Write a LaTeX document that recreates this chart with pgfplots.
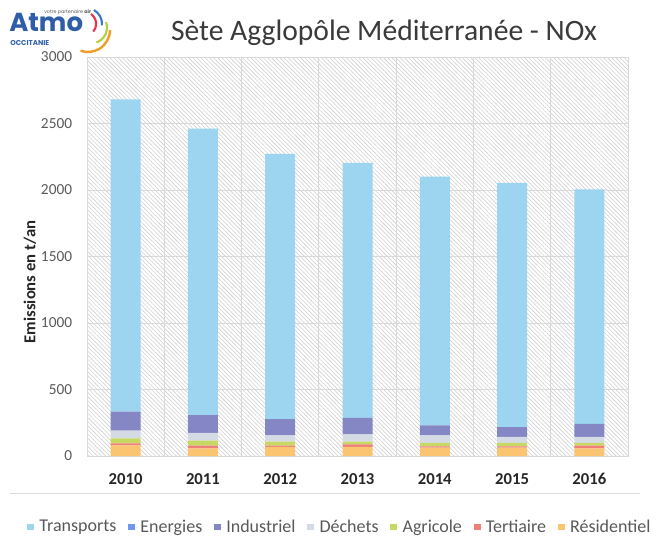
\documentclass[border=0pt]{standalone}
\usepackage{pgfplots}
\pgfplotsset{compat=1.18}
\usetikzlibrary{patterns.meta}
\usepackage{fontspec}
\setmainfont{Carlito}
\newfontfamily\logofont{Poppins}
\definecolor{tra}{HTML}{9DD5F1}
\definecolor{ene}{HTML}{7096EE}
\definecolor{ind}{HTML}{8487C3}
\definecolor{dec}{HTML}{D5DBE5}
\definecolor{agr}{HTML}{C8D963}
\definecolor{ter}{HTML}{EF8079}
\definecolor{res}{HTML}{FBC471}
\definecolor{gridc}{HTML}{D9D9D9}
\definecolor{hatch}{HTML}{CFCFCF}
\definecolor{tickc}{HTML}{595959}
\definecolor{xtc}{HTML}{262626}
\definecolor{titlec}{HTML}{3A3A3A}
\definecolor{atmoblue}{HTML}{2F5DA8}
\definecolor{logored}{HTML}{E8344E}
\definecolor{logogreen}{HTML}{B5CF3A}
\definecolor{logoorange}{HTML}{F39C25}
\definecolor{logoblue}{HTML}{3B7CC9}
\begin{document}
\begin{tikzpicture}
\path[use as bounding box] (0,0) rectangle (492pt,402.75pt);
\begin{axis}[
  at={(65.25pt,60.75pt)}, anchor=south west,
  scale only axis, width=405.75pt, height=299.25pt,
  ybar stacked, bar width=22.5pt,
  xmin=-0.5, xmax=6.5, ymin=0, ymax=3000,
  xtick={0,1,2,3,4,5,6},
  xticklabels={2010,2011,2012,2013,2014,2015,2016},
  minor xtick={0.5,1.5,2.5,3.5,4.5,5.5},
  ytick={0,500,1000,1500,2000,2500,3000},
  ymajorgrids, xminorgrids,
  grid style={color=gridc, line width=0.75pt},
  minor grid style={color=gridc, line width=0.75pt},
  axis line style={color=gridc, line width=0.75pt},
  major tick length=0pt, minor tick length=0pt,
  axis background/.style={pattern={Lines[angle=-45,distance=2.2pt,line width=0.45pt]}, pattern color=hatch},
  /pgf/number format/assume math mode=true,
  /pgf/number format/1000 sep={},
  yticklabel style={font=\fontsize{11.5}{13}\selectfont, text=tickc, inner sep=0pt, xshift=-11pt},
  xticklabel style={font=\bfseries\fontsize{12.5}{14}\selectfont, text=xtc, inner sep=0pt, yshift=-13pt},
  legend style={at={(-0.111,-0.178)}, anchor=west, draw=none, fill=none, inner sep=0pt,
    font=\fontsize{13.5}{15}\selectfont, text=tickc, legend columns=-1,
    /tikz/every even column/.append style={column sep=6.8pt}},
  legend image code/.code={\fill[#1] (0pt,-2.6pt) rectangle (5.25pt,2.6pt); \path (0pt,0pt) -- (7.2pt,0pt);},
  reverse legend,
]
\addplot[fill=res, draw=none] coordinates {(0,80) (1,58) (2,68) (3,68) (4,63) (5,63) (6,58)};
\addlegendentry{Résidentiel}
\addplot[fill=ter, draw=none] coordinates {(0,15) (1,20) (2,10) (3,20) (4,10) (5,10) (6,20)};
\addlegendentry{Tertiaire}
\addplot[fill=agr, draw=none] coordinates {(0,38) (1,38) (2,30) (3,20) (4,25) (5,25) (6,20)};
\addlegendentry{Agricole}
\addplot[fill=dec, draw=none] coordinates {(0,58) (1,58) (2,48) (3,55) (4,58) (5,45) (6,45)};
\addlegendentry{Déchets}
\addplot[fill=ind, draw=none] coordinates {(0,143) (1,133) (2,121) (3,123) (4,75) (5,75) (6,98)};
\addlegendentry{Industriel}
\addplot[fill=ene, draw=none] coordinates {(0,0) (1,0) (2,0) (3,0) (4,0) (5,0) (6,0)};
\addlegendentry{Energies}
\addplot[fill=tra, draw=none] coordinates {(0,2347) (1,2155) (2,1995) (3,1918) (4,1870) (5,1835) (6,1764)};
\addlegendentry{Transports}
\end{axis}
\begin{scope}[x=0.75pt,y=-0.75pt,yshift=402.75pt]
  \node[text=titlec, font=\fontsize{22.2}{25}\selectfont] at (384,33) {Sète Agglopôle Méditerranée - NOx};
  \node[rotate=90, font=\bfseries\fontsize{12.5}{14}\selectfont, text=xtc] at (30,282) {Emissions en t/an};
  \draw[gridc, line width=0.6pt] (10,493) -- (640,493);
  % logo
  \node[anchor=base west, inner sep=0pt, text=atmoblue, font=\logofont\bfseries\fontsize{19.5}{20}\selectfont] at (9,32) {Atmo};
  \node[anchor=base west, inner sep=0pt, text=atmoblue, font=\logofont\bfseries\fontsize{5.3}{6}\selectfont] at (10,45) {OCCITANIE};
  \node[anchor=base west, inner sep=0pt, text=tickc, font=\logofont\fontsize{3.6}{4}\selectfont] at (44,14) {votre partenaire \textbf{air}};
  \draw[logoblue, line width=1.6pt] (94,10) arc[start angle=-60, end angle=5, radius=16];
  \draw[logored, line width=1.6pt] (91,14) arc[start angle=-55, end angle=40, radius=12];
  \draw[logogreen, line width=1.6pt] (106,22) arc[start angle=-20, end angle=70, radius=16];
  \draw[logoorange, line width=1.8pt] (110,30) arc[start angle=0, end angle=110, radius=22];
\end{scope}
\end{tikzpicture}
\end{document}
